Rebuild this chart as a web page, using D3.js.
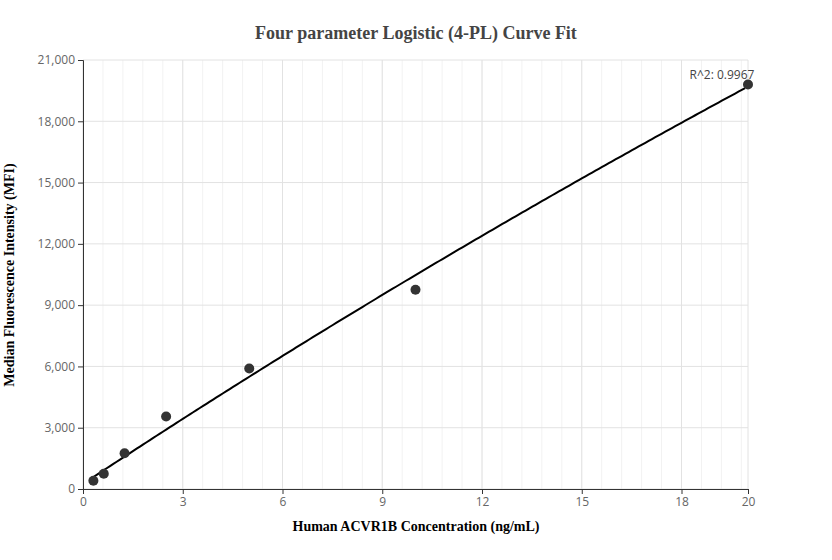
<!DOCTYPE html>
<html><head><meta charset="utf-8">
<script src="https://cdn.jsdelivr.net/npm/d3@7"></script>
<style>body{margin:0;background:#fff}</style>
</head><body><div id="chart"></div>
<script>
var concentrations = [0.3125, 0.625, 1.25, 2.5, 5, 10, 20];
var mfiValues = [400, 750, 1750, 3550, 5900, 9750, 19800];
var xTicks = [0, 3, 6, 9, 12, 15, 18, 20];
var yTicks = [0, 3000, 6000, 9000, 12000, 15000, 18000, 21000];
// fitted 4PL parameters
var fitA = 250, fitB = 1, fitC = 185.4, fitD = 200000;

var width = 832, height = 560;
var margin = {top: 60, right: 84, bottom: 71, left: 83};
var svg = d3.select("#chart").append("svg").attr("width", width).attr("height", height);

var x = d3.scaleLinear().domain([0, 20]).range([margin.left, width - margin.right]);
var y = d3.scaleLinear().domain([0, 21000]).range([height - margin.bottom, margin.top]);

var grid = svg.append("g");
d3.range(0, 20.01, 0.6).forEach(function(v) {
  grid.append("line").attr("x1", x(v)).attr("x2", x(v)).attr("y1", y(0)).attr("y2", y(21000))
    .attr("stroke", "#f2f2f2");
});
xTicks.forEach(function(v) {
  grid.append("line").attr("x1", x(v)).attr("x2", x(v)).attr("y1", y(0)).attr("y2", y(21000))
    .attr("stroke", "#e2e2e2");
});
yTicks.forEach(function(v) {
  grid.append("line").attr("x1", x(0)).attr("x2", x(20)).attr("y1", y(v)).attr("y2", y(v))
    .attr("stroke", "#e2e2e2");
});

var xAxis = svg.append("g").attr("transform", "translate(0," + y(0) + ")")
  .call(d3.axisBottom(x).tickValues(xTicks).tickSize(5).tickFormat(d3.format("d")));
var yAxis = svg.append("g").attr("transform", "translate(" + x(0) + ",0)")
  .call(d3.axisLeft(y).tickValues(yTicks).tickSize(5).tickFormat(d3.format(",")));
[xAxis, yAxis].forEach(function(a) {
  a.selectAll("path,line").attr("stroke", "#333");
  a.selectAll("text").attr("fill", "#666").style("font-family", "Open Sans, sans-serif").style("font-size", "12px");
});

function fourPL(c) { return fitD + (fitA - fitD) / (1 + Math.pow(c / fitC, fitB)); }
var curveX = d3.range(0.3125, 20.0001, 0.1);
svg.append("path").datum(curveX)
  .attr("d", d3.line().x(function(d) { return x(d); }).y(function(d) { return y(fourPL(d)); }))
  .attr("fill", "none").attr("stroke", "#000").attr("stroke-width", 2);

svg.selectAll("circle").data(concentrations).enter().append("circle")
  .attr("cx", function(d) { return x(d); })
  .attr("cy", function(d, i) { return y(mfiValues[i]); })
  .attr("r", 5).attr("fill", "#333");

svg.append("text").attr("x", x(20) - 26).attr("y", y(mfiValues[6]) - 6).attr("text-anchor", "middle")
  .style("font-family", "Open Sans, sans-serif").style("font-size", "12px").attr("fill", "#444")
  .text("R^2: 0.9967");

svg.append("text").attr("x", 416).attr("y", 39).attr("text-anchor", "middle")
  .style("font-family", "Liberation Serif, serif").style("font-size", "18px").style("font-weight", "bold")
  .attr("fill", "#444").text("Four parameter Logistic (4-PL) Curve Fit");
svg.append("text").attr("x", 416).attr("y", 531).attr("text-anchor", "middle")
  .style("font-family", "Liberation Serif, serif").style("font-size", "14px").style("font-weight", "bold")
  .attr("fill", "#000").text("Human ACVR1B Concentration (ng/mL)");
svg.append("text").attr("transform", "translate(14,275) rotate(-90)").attr("text-anchor", "middle")
  .style("font-family", "Liberation Serif, serif").style("font-size", "14px").style("font-weight", "bold")
  .attr("fill", "#000").text("Median Fluorescence Intensity (MFI)");
</script></body></html>
